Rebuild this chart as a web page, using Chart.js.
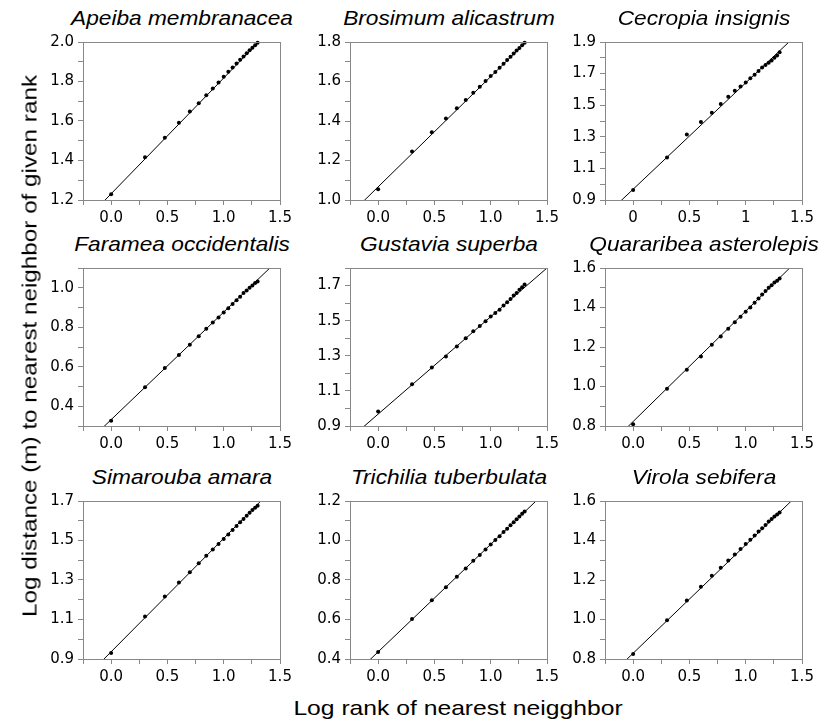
<!DOCTYPE html>
<html>
<head>
<meta charset="utf-8">
<script src="https://cdn.jsdelivr.net/npm/chart.js@4.4.1/dist/chart.umd.min.js"></script>
<style>
  html, body { margin: 0; padding: 0; background: #fff; }
  #fig { position: relative; width: 825px; height: 722px; overflow: hidden; background: #fff; }
  #fig canvas { position: absolute; }
  .txt { position: absolute; white-space: nowrap; color: #000; font-family: 'Liberation Sans', Arial, sans-serif; }
  .ptitle { font-size: 21px; line-height: 21px; font-style: italic; transform: translateX(-50%) scaleX(1.08); }
  .xtitle { font-size: 21px; line-height: 21px; transform: translateX(-50%) scaleX(1.175); }
  .ytitle { font-size: 21px; line-height: 21px; transform: translate(-50%, -50%) rotate(-90deg) scaleX(1.155); }
</style>
</head>
<body>
<div id="fig"></div>
<script>
/**
 * 3x3 grid: log distance to k-th nearest neighbour vs log rank, per species
 */

// ─── data ────────────────────────────────────────────────────────────────────
const species = [
  'Apeiba membranacea', 'Brosimum alicastrum', 'Cecropia insignis',
  'Faramea occidentalis', 'Gustavia superba', 'Quararibea asterolepis',
  'Simarouba amara', 'Trichilia tuberbulata', 'Virola sebifera',
];

// log10 of rank 1..20
const logRank = [0, 0.301, 0.477, 0.602, 0.699, 0.778, 0.845, 0.903, 0.954, 1.0,
                 1.041, 1.079, 1.114, 1.146, 1.176, 1.204, 1.230, 1.255, 1.279, 1.301];

const apeiba     = [1.229, 1.416, 1.515, 1.591, 1.648, 1.690, 1.730, 1.765, 1.795, 1.824, 1.849, 1.871, 1.891, 1.910, 1.926, 1.943, 1.958, 1.971, 1.983, 1.996];
const brosimum   = [1.055, 1.246, 1.343, 1.413, 1.464, 1.506, 1.543, 1.573, 1.602, 1.628, 1.648, 1.670, 1.690, 1.709, 1.725, 1.742, 1.757, 1.770, 1.784, 1.796];
const cecropia   = [0.963, 1.169, 1.314, 1.394, 1.452, 1.508, 1.554, 1.592, 1.619, 1.644, 1.671, 1.692, 1.717, 1.738, 1.754, 1.769, 1.783, 1.800, 1.815, 1.835];
const faramea    = [0.326, 0.496, 0.594, 0.660, 0.712, 0.755, 0.793, 0.824, 0.849, 0.875, 0.896, 0.918, 0.937, 0.955, 0.973, 0.986, 1.000, 1.012, 1.024, 1.032];
const gustavia   = [0.982, 1.138, 1.233, 1.296, 1.353, 1.400, 1.440, 1.469, 1.497, 1.524, 1.543, 1.562, 1.586, 1.605, 1.624, 1.643, 1.658, 1.676, 1.691, 1.706];
const quararibea = [0.809, 0.988, 1.085, 1.152, 1.211, 1.253, 1.292, 1.325, 1.353, 1.379, 1.400, 1.424, 1.446, 1.466, 1.483, 1.500, 1.513, 1.526, 1.535, 1.547];
const simarouba  = [0.930, 1.115, 1.216, 1.287, 1.339, 1.385, 1.423, 1.455, 1.482, 1.507, 1.531, 1.553, 1.573, 1.592, 1.609, 1.625, 1.641, 1.654, 1.666, 1.676];
const trichilia  = [0.435, 0.602, 0.697, 0.763, 0.817, 0.858, 0.897, 0.927, 0.955, 0.980, 1.002, 1.022, 1.043, 1.060, 1.077, 1.093, 1.108, 1.122, 1.135, 1.147];
const virola     = [0.825, 0.996, 1.096, 1.166, 1.221, 1.262, 1.299, 1.329, 1.357, 1.382, 1.404, 1.425, 1.445, 1.462, 1.479, 1.496, 1.509, 1.521, 1.532, 1.542];
const series = [apeiba, brosimum, cecropia, faramea, gustavia, quararibea, simarouba, trichilia, virola];

// fitted line, y at x = -0.25 and x = 1.5
const fitX     = [-0.25, 1.5];
const fitStart = [1.085, 0.927, 0.800, 0.196, 0.829, 0.683, 0.793, 0.300, 0.692];
const fitEnd   = [2.111, 1.904, 1.978, 1.149, 1.800, 1.661, 1.798, 1.253, 1.652];

// axes
const xMin = -0.25, xMax = 1.5;
const xTickVals  = [0, 0.5, 1.0, 1.5];
const xTickText  = ['0.0', '0.5', '1.0', '1.5'];
const xTickTextC = ['0', '0.5', '1', '1.5'];   // Cecropia panel uses plain numbers
const yMin = [1.2, 1.0, 0.9, 0.3, 0.9, 0.8, 0.9, 0.4, 0.8];
const yMax = [2.0, 1.8, 1.9, 1.1, 1.8, 1.6, 1.7, 1.2, 1.6];
const yLabels = [
  [1.2, 1.4, 1.6, 1.8, 2.0],
  [1.0, 1.2, 1.4, 1.6, 1.8],
  [0.9, 1.1, 1.3, 1.5, 1.7, 1.9],
  [0.4, 0.6, 0.8, 1.0],
  [0.9, 1.1, 1.3, 1.5, 1.7],
  [0.8, 1.0, 1.2, 1.4, 1.6],
  [0.9, 1.1, 1.3, 1.5, 1.7],
  [0.4, 0.6, 0.8, 1.0, 1.2],
  [0.8, 1.0, 1.2, 1.4, 1.6],
];

// ─── layout ──────────────────────────────────────────────────────────────────
const colLeft = [83, 350, 605];
const rowTop  = [41, 267, 500];
const PW = 197, PH = 159;           // plot area
const YAX = 50, XAX = 30, PADT = 12, PADR = 16;
const TICK_FONT = { family: "'DejaVu Sans', Verdana, sans-serif", size: 15 };
const BOX = '#888';

const fig = document.getElementById('fig');

function addText(cls, txt, left, top) {
  const d = document.createElement('div');
  d.className = 'txt ' + cls;
  d.textContent = txt;
  d.style.left = left + 'px';
  d.style.top = top + 'px';
  fig.appendChild(d);
}

const near = (v, arr) => arr.findIndex(a => Math.abs(a - v) < 1e-6);

const boxPlugin = {
  id: 'box',
  afterDraw(chart) {
    const { ctx, chartArea: a } = chart;
    ctx.save();
    ctx.strokeStyle = BOX;
    ctx.lineWidth = 1;
    ctx.strokeRect(Math.round(a.left) + 0.5, Math.round(a.top) + 0.5,
                   Math.round(a.right - a.left), Math.round(a.bottom - a.top));
    ctx.restore();
  },
};

// ─── one panel ───────────────────────────────────────────────────────────────
function renderPanel(i) {
  const col = i % 3, row = Math.floor(i / 3);
  const pl = colLeft[col], pt = rowTop[row];

  const cv = document.createElement('canvas');
  cv.width = YAX + PW + PADR;
  cv.height = PADT + PH + XAX;
  cv.style.left = (pl - YAX) + 'px';
  cv.style.top = (pt - PADT) + 'px';
  fig.appendChild(cv);

  addText('ptitle', species[i], pl + PW / 2, pt - 16 - 17.8);

  const xt = i === 2 ? xTickTextC : xTickText;
  const pts = logRank.map((x, k) => ({ x, y: series[i][k] }));
  const fit = [{ x: fitX[0], y: fitStart[i] }, { x: fitX[1], y: fitEnd[i] }];

  new Chart(cv, {
    type: 'scatter',
    data: {
      datasets: [
        { data: fit, showLine: true, borderColor: '#000', borderWidth: 1, pointRadius: 0, clip: 0 },
        { data: pts, backgroundColor: '#000', borderColor: '#000', borderWidth: 0, pointRadius: 2, clip: false },
      ],
    },
    options: {
      responsive: false, animation: false, events: [],
      layout: { padding: { top: PADT, right: PADR, left: 0, bottom: 0 } },
      plugins: { legend: { display: false }, tooltip: { enabled: false } },
      scales: {
        x: {
          type: 'linear', min: xMin, max: xMax,
          afterFit: s => { s.height = XAX; },
          border: { display: false },
          grid: { drawOnChartArea: false, drawTicks: true, tickLength: 5, color: BOX },
          ticks: {
            stepSize: 0.25, autoSkip: false, maxRotation: 0, minRotation: 0,
            padding: 4, color: '#000', font: TICK_FONT,
            callback: v => { const k = near(v, xTickVals); return k < 0 ? '' : xt[k]; },
          },
        },
        y: {
          type: 'linear', min: yMin[i], max: yMax[i],
          afterFit: s => { s.width = YAX; },
          border: { display: false },
          grid: { drawOnChartArea: false, drawTicks: true, tickLength: 5, color: BOX },
          ticks: {
            stepSize: 0.1, autoSkip: false, padding: 4, color: '#000', font: TICK_FONT,
            callback: v => near(v, yLabels[i]) < 0 ? '' : v.toFixed(1),
          },
        },
      },
    },
    plugins: [boxPlugin],
  });
}

species.forEach((_, i) => renderPanel(i));

// ─── shared axis titles ──────────────────────────────────────────────────────
addText('xtitle', 'Log rank of nearest neigghbor', 457.5, 697.2);
addText('ytitle', 'Log distance (m) to nearest neighbor of given rank', 28.7, 346);
</script>
</body>
</html>
